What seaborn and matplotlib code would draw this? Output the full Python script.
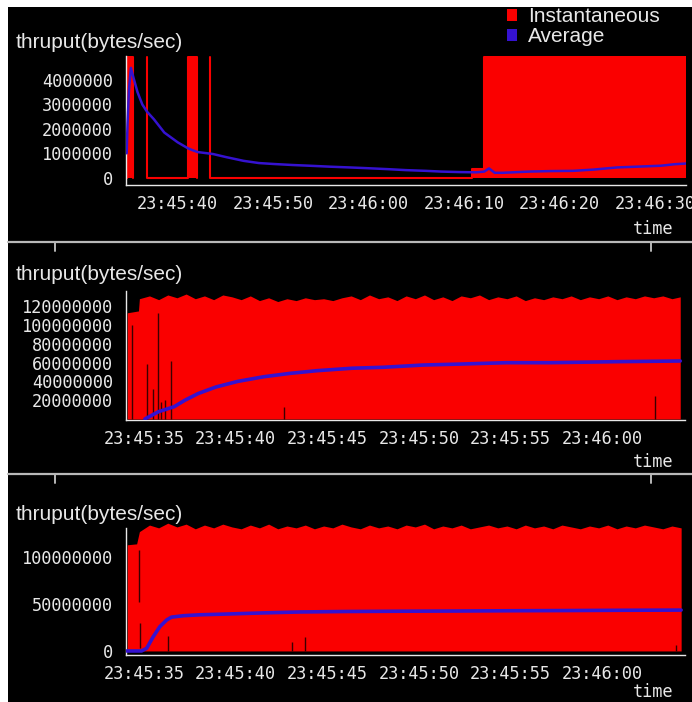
import numpy as np
import matplotlib
matplotlib.use("Agg")
import matplotlib.pyplot as plt
from matplotlib.ticker import FuncFormatter, MultipleLocator, FixedLocator
from matplotlib.patches import Patch, Rectangle
from matplotlib.lines import Line2D
import seaborn as sns

# ---------------- data (time = seconds after 23:45:00, throughput in millions of bytes/sec)
# Panel 1
inst1_t = [34.66, 34.66, 35.35, 35.35, np.nan, 36.75, 36.75, 41.11, 41.11, 41.99, 41.99, np.nan,
           43.38, 43.38, 70.8, 70.8, 72.1, 72.1, 93.25]
inst1_v = [0.0, 4.95, 4.95, 0.0, np.nan, 4.95, 0.0, 0.0, 4.95, 4.95, 0.0, np.nan,
           4.95, 0.0, 0.0, 0.35, 0.35, 4.95, 4.95]
avg1_t = [34.66, 34.75, 34.9, 35.1, 35.3, 35.8, 36.3, 36.8, 37.5, 38.6, 40.0, 41.1, 41.6, 42.1,
          43.7, 45.0, 46.9, 48.5, 50.1, 52.0, 53.8, 56.0, 58.0, 59.8, 62.0, 63.9, 66.0, 67.6,
          69.5, 71.3, 72.1, 72.6, 73.2, 74.0, 76.8, 79.0, 81.4, 83.5, 86.0, 88.0, 90.6, 92.0, 93.2]
avg1_v = [1.0, 2.2, 3.6, 4.5, 4.2, 3.5, 3.0, 2.7, 2.4, 1.85, 1.45, 1.2, 1.12, 1.05,
          0.97, 0.85, 0.69, 0.6, 0.56, 0.52, 0.49, 0.45, 0.42, 0.39, 0.35, 0.31, 0.28, 0.25,
          0.23, 0.22, 0.25, 0.38, 0.2, 0.2, 0.25, 0.27, 0.28, 0.33, 0.42, 0.45, 0.49, 0.55, 0.58]

# Panel 2
inst2_t = [34.09, 34.7, 34.75, 35.3, 35.8, 36.3, 36.8, 37.3, 37.8, 38.3, 38.8, 39.3, 39.8, 40.3,
           40.8, 41.3, 41.8, 42.3, 42.8, 43.3, 43.8, 44.3, 44.8, 45.3, 45.8, 46.3, 46.8, 47.3,
           47.8, 48.3, 48.8, 49.3, 49.8, 50.3, 50.8, 51.3, 51.8, 52.3, 52.8, 53.3, 53.8, 54.3,
           54.8, 55.3, 55.8, 56.3, 56.8, 57.3, 57.8, 58.3, 58.8, 59.3, 59.8, 60.3, 60.8, 61.3,
           61.8, 62.3, 62.8, 63.3, 63.8, 64.25]
inst2_v = [113, 115, 128, 131, 127, 132, 129, 133, 128, 131, 127, 132, 130, 127,
           131, 126, 129, 125, 128, 126, 129, 127, 128, 126, 129, 131, 127, 132,
           128, 130, 126, 131, 128, 132, 127, 130, 126, 131, 129, 132, 127, 130,
           128, 131, 126, 129, 127, 130, 128, 131, 127, 130, 128, 131, 127, 130,
           128, 131, 129, 131, 128, 130]
gap2_t = [34.35, 35.15, 35.5, 35.75, 35.95, 36.15, 36.5, 42.65, 62.9]
gap2_lo = [0, 0, 0, 0, 0, 0, 0, 0, 0]
gap2_hi = [100, 58, 32, 113, 18, 20, 62, 13, 24]
avg2_t = [35.05, 35.8, 36.64, 37.24, 37.95, 38.92, 40.12, 41.55, 43.0, 44.44, 46.35, 48.04,
          50.22, 52.38, 54.78, 57.19, 60.79, 64.25]
avg2_v = [0.0, 7.8, 13.0, 20.0, 27.0, 34.0, 40.0, 45.0, 48.6, 51.4, 54.0, 55.0,
          57.4, 58.5, 59.9, 59.9, 61.0, 61.7]

# Panel 3
inst3_t = [34.09, 34.6, 34.75, 35.3, 35.8, 36.3, 36.8, 37.3, 37.8, 38.3, 38.8, 39.3, 39.8, 40.3,
           40.8, 41.3, 41.8, 42.3, 42.8, 43.3, 43.8, 44.3, 44.8, 45.3, 45.8, 46.3, 46.8, 47.3,
           47.8, 48.3, 48.8, 49.3, 49.8, 50.3, 50.8, 51.3, 51.8, 52.3, 52.8, 53.3, 53.8, 54.3,
           54.8, 55.3, 55.8, 56.3, 56.8, 57.3, 57.8, 58.3, 58.8, 59.3, 59.8, 60.3, 60.8, 61.3,
           61.8, 62.3, 62.8, 63.3, 63.8, 64.3]
inst3_v = [113, 114, 127, 134, 131, 136, 132, 135, 130, 134, 131, 135, 132, 130,
           134, 131, 135, 130, 133, 131, 134, 130, 133, 131, 135, 132, 130, 134,
           131, 133, 130, 134, 132, 135, 130, 133, 131, 134, 130, 132, 134, 131,
           133, 130, 134, 131, 133, 130, 134, 132, 130, 133, 131, 134, 130, 133,
           131, 134, 132, 130, 133, 131]
gap3_t = [34.74, 34.76, 36.33, 43.1, 43.8, 64.0]
gap3_lo = [52, 3, 0, 0, 0, 0]
gap3_hi = [107, 30, 16, 10, 15, 6]
avg3_t = [34.06, 34.87, 35.15, 35.5, 35.87, 36.24, 36.5, 37.14, 38.06, 39.86, 41.5, 43.5,
          46.0, 49.0, 52.0, 55.0, 58.0, 61.0, 64.3]
avg3_v = [0.0, 0.0, 2.9, 15.0, 26.0, 33.0, 36.0, 37.5, 38.5, 39.5, 40.5, 41.5,
          42.0, 42.3, 42.5, 42.8, 43.0, 43.3, 43.5]

series_labels = ["Instantaneous", "Average"]
y_title = "thruput(bytes/sec)"
x_title = "time"

# ---------------- style
RED = "#fa0000"
BLUE = "#3512d0"
FG = "#e8e8e8"
W, H = 692, 702

sns.set_style("dark", {"axes.facecolor": "black", "figure.facecolor": "white"})
plt.rcParams["font.family"] = ["Liberation Sans", "DejaVu Sans"]

fig = plt.figure(figsize=(W / 100, H / 100), dpi=100)
fig.add_artist(Rectangle((8 / W, 0), 1 - 8 / W, 1 - 7 / H, transform=fig.transFigure,
                         facecolor="black", edgecolor="none", zorder=-10))


def box(l, t, r, b):
    return [l / W, 1 - b / H, (r - l) / W, (b - t) / H]


def tfmt(s, pos):
    s = int(round(s))
    return f"23:{45 + s // 60:02d}:{s % 60:02d}"


def yfmt(v, pos):
    return f"{int(round(v * 1e6))}"


def style_axes(ax, xlim, ylim, xstep, ymajor, yminor):
    ax.set_xlim(*xlim)
    ax.set_ylim(*ylim)
    ax.set_facecolor("black")
    ax.grid(False)
    for side in ("top", "right"):
        ax.spines[side].set_visible(False)
    for side in ("left", "bottom"):
        ax.spines[side].set_color(FG)
        ax.spines[side].set_linewidth(1.0)
    ax.xaxis.set_major_locator(MultipleLocator(xstep))
    ax.xaxis.set_major_formatter(FuncFormatter(tfmt))
    ax.yaxis.set_major_locator(FixedLocator(ymajor))
    ax.yaxis.set_minor_locator(FixedLocator(yminor))
    ax.yaxis.set_major_formatter(FuncFormatter(yfmt))
    ax.tick_params(axis="both", which="both", colors=FG, direction="out",
                   labelfontfamily="DejaVu Sans Mono", labelsize=12.2)
    ax.tick_params(axis="x", which="major", length=5, width=1, pad=2.5)
    ax.tick_params(axis="y", which="major", length=6, width=1, pad=3.5)
    ax.tick_params(axis="y", which="minor", length=5, width=1)
    ax.set_xlabel("")
    ax.set_ylabel("")


# ---- panel 1
ax1 = fig.add_axes(box(126, 55.7, 686, 185))
ax1.fill_between(inst1_t, 0, inst1_v, color=RED, lw=0, zorder=2)
ax1.plot(inst1_t, inst1_v, color=RED, lw=1.5, zorder=2)
sns.lineplot(x=avg1_t, y=avg1_v, color=BLUE, lw=1.8, ax=ax1, estimator=None, sort=False,
             legend=False, zorder=4)
style_axes(ax1, (34.59, 93.23), (-0.3, 5.0), 10, [0, 1, 2, 3, 4], [0.5, 1.5, 2.5, 3.5, 4.5])

# ---- panel 2
ax2 = fig.add_axes(box(126, 291.2, 685, 419.9))
ax2.fill_between(inst2_t, 0, inst2_v, color=RED, lw=0, zorder=3)
ax2.vlines(gap2_t, gap2_lo, gap2_hi, color="#3a0000", lw=1.0, zorder=3.2)
sns.lineplot(x=avg2_t, y=avg2_v, color=BLUE, lw=2.6, ax=ax2, estimator=None, sort=False,
             legend=False, zorder=4)
style_axes(ax2, (34.02, 64.51), (-1, 136), 5, [20, 40, 60, 80, 100, 120],
           [10, 30, 50, 70, 90, 110, 130])

# ---- panel 3
ax3 = fig.add_axes(box(126, 521.3, 685, 655))
ax3.fill_between(inst3_t, 0, inst3_v, color=RED, lw=0, zorder=3)
ax3.vlines(gap3_t, gap3_lo, gap3_hi, color="#3a0000", lw=1.0, zorder=3.2)
sns.lineplot(x=avg3_t, y=avg3_v, color=BLUE, lw=2.6, ax=ax3, estimator=None, sort=False,
             legend=False, zorder=4)
style_axes(ax3, (34.02, 64.51), (-4.3, 138), 5, [0, 50, 100],
           [10, 20, 30, 40, 60, 70, 80, 90, 110, 120, 130])
ax3.spines["left"].set_bounds(-4.3, 131)

# ---- titles / axis names
for yc in (43, 275, 515):
    fig.text(16 / W, 1 - yc / H, y_title, ha="left", va="center", fontsize=15, color=FG,
             family=["Liberation Sans", "DejaVu Sans"])
for yc in (229, 462, 692):
    fig.text(673 / W, 1 - yc / H, x_title, ha="right", va="center", fontsize=12.2, color=FG,
             family="DejaVu Sans Mono")

# ---- separators
for ys in (241.5, 474):
    fig.add_artist(Line2D([8 / W, 1], [1 - ys / H] * 2, color="#b8b8b8", lw=1.6))
    for xs in (55, 651):
        fig.add_artist(Line2D([xs / W] * 2, [1 - ys / H, 1 - (ys + 9) / H], color="#b8b8b8", lw=1.4))

# ---- legend
handles = [Patch(facecolor=RED, edgecolor="none"), Patch(facecolor=BLUE, edgecolor="none")]
fig.legend(handles, series_labels, loc="upper left", bbox_to_anchor=(507 / W, 1 - 7 / H),
           frameon=False, handlelength=0.5, handleheight=0.5, handletextpad=0.5,
           labelspacing=0.05, borderaxespad=0, borderpad=0, labelcolor=FG,
           prop={"family": ["Liberation Sans", "DejaVu Sans"], "size": 15})

fig.savefig("out.png", dpi=100, facecolor="white")
